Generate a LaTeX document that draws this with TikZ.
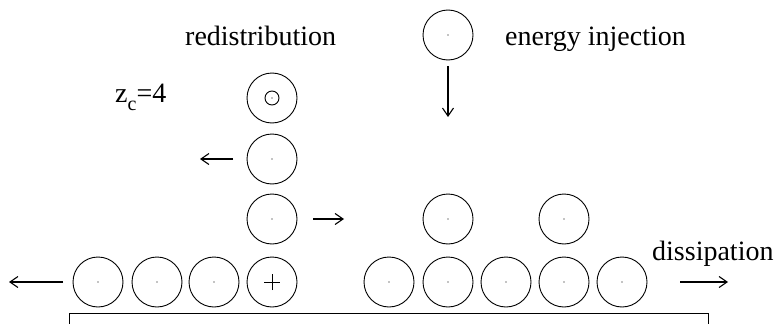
\documentclass[tikz,border=0pt]{standalone}
\usepackage{fontspec}
\setmainfont{Liberation Serif}
\usetikzlibrary{arrows.meta}
\begin{document}
\begin{tikzpicture}[x=1pt,y=-1pt,
  ball/.style={draw,circle,minimum size=50pt,inner sep=0pt,line width=0.9pt},
  lbl/.style={font=\fontsize{28}{32}\selectfont,inner sep=0pt,anchor=base west},
  arr/.style={line width=1.1pt,-{Straight Barb[length=8pt,width=11pt,line width=1.1pt]}}]
\useasboundingbox (0,0) rectangle (774,324);
% bottom row
\foreach \n/\x in {b1/98,b2/157,b3/214,b4/272,c1/389,c2/448,c3/506,c4/564,c5/622}{
  \node[ball] (\n) at (\x,282) {};
}
\foreach \n in {b1,b2,b3,c1,c2,c3,c4,c5}{\fill (\n) circle (0.7pt);}
\draw[line width=0.9pt] ([xshift=-8pt]b4.center) -- ([xshift=8pt]b4.center)
  ([yshift=-8pt]b4.center) -- ([yshift=8pt]b4.center);
% stacked
\node[ball] (s1) at (272,219) {};
\node[ball] (s2) at (272,159) {};
\node[ball] (s3) at (272,98) {};
\node[ball] (u1) at (448,219) {};
\node[ball] (u2) at (564,219) {};
\node[ball] (inj) at (448,35) {};
\foreach \n in {s1,s2,s3,u1,u2,inj}{\fill (\n) circle (0.7pt);}
\draw[line width=0.9pt] (s3) circle (7pt);
% base bracket
\coordinate (bl) at (69,324);
\coordinate (br) at (708,324);
\draw[line width=1pt] (bl) -- (69,313) -- (708,313) -- (br);
% arrows
\coordinate (a1s) at (448,66); \coordinate (a1e) at (448,117);
\draw[arr] (a1s) -- (a1e);
\coordinate (a2s) at (233,159); \coordinate (a2e) at (200,159);
\draw[arr] (a2s) -- (a2e);
\coordinate (a3s) at (313,219); \coordinate (a3e) at (344,219);
\draw[arr] (a3s) -- (a3e);
\coordinate (a4s) at (63,282); \coordinate (a4e) at (9,282);
\draw[arr] (a4s) -- (a4e);
\coordinate (a5s) at (680,282); \coordinate (a5e) at (728,282);
\draw[arr] (a5s) -- (a5e);
% labels
\node[lbl] (t1) at (185,45) {redistribution};
\node[lbl] (t2) at (505,45) {energy injection};
\node[lbl] (t3) at (115,102) {z\raisebox{-0.3em}{\fontsize{20}{22}\selectfont c}=4};
\node[lbl] (t4) at (652,260) {dissipation};
\end{tikzpicture}
\end{document}
